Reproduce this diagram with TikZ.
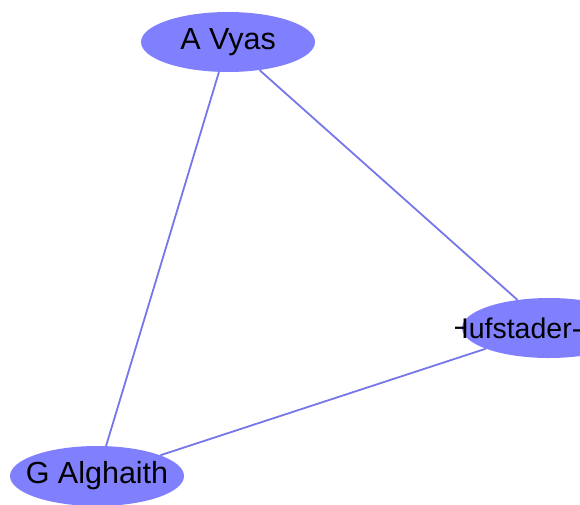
\documentclass[tikz,border=0pt]{standalone}
\usepackage{fontspec}
\setmainfont{Liberation Sans}
\usetikzlibrary{shapes.geometric}
\definecolor{nodefill}{RGB}{128,128,255}
\definecolor{edgecol}{RGB}{118,118,235}
\begin{document}
\begin{tikzpicture}[x=1pt,y=-1pt,
  person/.style={ellipse,fill=nodefill,draw=none,minimum width=174pt,minimum height=60pt,inner sep=0pt},
  personlabel/.style={inner sep=0pt,font=\fontsize{30.5}{36}\selectfont},
  link/.style={draw=edgecol,line width=1.8pt}]
\useasboundingbox (0,0) rectangle (580,504);
\begin{scope}
\clip (0,0) rectangle (580,504);
\node[person] (vyas) at (228,42) {};
\node[personlabel] (vyastext) at (228,42) {A Vyas};
\node[person] (alg) at (97,476) {};
\node[personlabel] (algtext) at (97,476) {G Alghaith};
\node[person] (huf) at (549,328) {};
\begin{scope}
\clip (455,290) rectangle (580,370);
\node[personlabel,anchor=west,font=\fontsize{28.5}{34}\selectfont] (huftext) at (448,328) {Hufstader-};
\end{scope}
\draw[link] (vyas) -- (alg);
\draw[link] (vyas) -- (huf);
\draw[link] (alg) -- (huf);
\end{scope}
\end{tikzpicture}
\end{document}
